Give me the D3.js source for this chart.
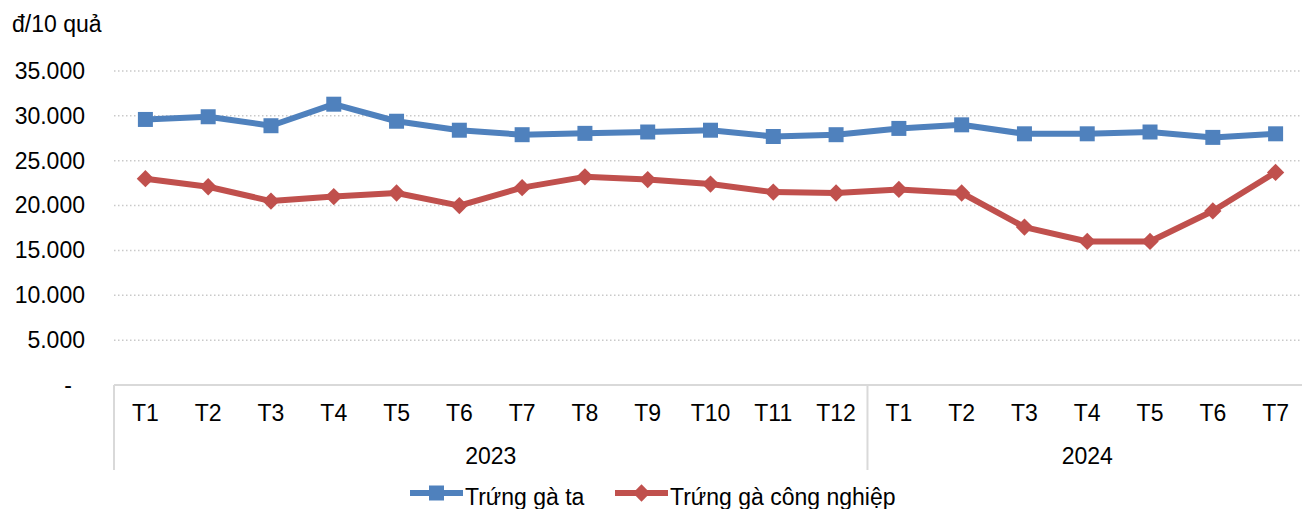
<!DOCTYPE html>
<html>
<head>
<meta charset="utf-8">
<script src="https://cdn.jsdelivr.net/npm/d3@7"></script>
<style>
  body { margin: 0; background: #fff; }
  svg text { font-family: "Liberation Sans", Arial, sans-serif; font-size: 23px; fill: #000; }
</style>
</head>
<body>
<div id="chart"></div>
<script>
// data
const months = ["T1", "T2", "T3", "T4", "T5", "T6", "T7", "T8", "T9", "T10", "T11", "T12",
                "T1", "T2", "T3", "T4", "T5", "T6", "T7"];
const years = [{ name: "2023", from: 0, to: 12 }, { name: "2024", from: 12, to: 19 }];
const gaTa = [29600, 29900, 28900, 31300, 29400, 28400, 27900, 28050, 28200, 28400, 27700, 27900,
              28600, 29000, 28000, 28000, 28200, 27600, 28000];
const gaCongNghiep = [23000, 22100, 20500, 21000, 21400, 20000, 22000, 23200, 22900, 22400, 21500, 21400,
                      21800, 21400, 17600, 16000, 16000, 19400, 23700];
const yTicks = [0, 5000, 10000, 15000, 20000, 25000, 30000, 35000];

const W = 1302, H = 509;
const plotLeft = 114, plotRight = 1307, plotTop = 71, plotBottom = 385;

const svg = d3.select("#chart").append("svg")
    .attr("width", W)
    .attr("height", H);

const x = d3.scaleBand()
    .domain(d3.range(months.length))
    .range([plotLeft, plotRight]);

const y = d3.scaleLinear()
    .domain([0, 35000])
    .range([plotBottom, plotTop]);

const fmt = d => d === 0 ? "-" : d3.format(",")(d).replace(/,/g, ".");

// grid lines
svg.append("g")
    .selectAll("line")
    .data(yTicks.filter(d => d > 0))
    .join("line")
    .attr("x1", plotLeft)
    .attr("x2", W)
    .attr("y1", d => y(d))
    .attr("y2", d => y(d))
    .attr("stroke", "#c9c9c9")
    .attr("stroke-width", 1.5)
    .attr("stroke-dasharray", "1.5,2.5");

// y axis labels
svg.append("g")
    .call(d3.axisLeft(y).tickValues(yTicks).tickSize(0).tickPadding(0).tickFormat(fmt))
    .attr("transform", "translate(85,0)")
    .call(g => g.select(".domain").remove())
    .call(g => g.selectAll("text")
        .attr("dx", d => d === 0 ? -13 : 0));
svg.selectAll("g").attr("font-size", null).attr("font-family", null);

svg.append("text")
    .attr("x", 12)
    .attr("y", 32)
    .text("đ/10 quả");

// x axis
svg.append("line")
    .attr("x1", plotLeft).attr("x2", W)
    .attr("y1", plotBottom).attr("y2", plotBottom)
    .attr("stroke", "#d9d9d9")
    .attr("stroke-width", 2);

svg.append("g")
    .selectAll("line")
    .data(years.map(d => d.from))
    .join("line")
    .attr("x1", d => x(d))
    .attr("x2", d => x(d))
    .attr("y1", plotBottom)
    .attr("y2", 470)
    .attr("stroke", "#d9d9d9")
    .attr("stroke-width", 2);

svg.append("g")
    .selectAll("text")
    .data(months)
    .join("text")
    .attr("x", (d, i) => x(i) + x.bandwidth() / 2)
    .attr("y", 421)
    .attr("text-anchor", "middle")
    .text(d => d);

svg.append("g")
    .selectAll("text")
    .data(years)
    .join("text")
    .attr("x", d => x(d.from) + (d.to - d.from) * x.bandwidth() / 2)
    .attr("y", 464)
    .attr("text-anchor", "middle")
    .text(d => d.name);

// series (diamond = square turned 45deg)
const series = [
    { name: "Trứng gà ta", values: gaTa, color: "#4f81bd", size: 225, rotate: 0 },
    { name: "Trứng gà công nghiệp", values: gaCongNghiep, color: "#c0504d", size: 150, rotate: 45 }
];

const line = d3.line()
    .x((d, i) => x(i) + x.bandwidth() / 2)
    .y(d => y(d));

series.forEach(s => {
    svg.append("path")
        .datum(s.values)
        .attr("fill", "none")
        .attr("stroke", s.color)
        .attr("stroke-width", 6)
        .attr("stroke-linejoin", "round")
        .attr("d", line);

    svg.append("g")
        .selectAll("path")
        .data(s.values)
        .join("path")
        .attr("transform", (d, i) => `translate(${x(i) + x.bandwidth() / 2},${y(d)}) rotate(${s.rotate})`)
        .attr("d", d3.symbol().type(d3.symbolSquare).size(s.size))
        .attr("fill", s.color);
});

// legend
const legendX = [410, 615];
series.forEach((s, i) => {
    const g = svg.append("g").attr("transform", `translate(${legendX[i]},493)`);
    g.append("line")
        .attr("x1", 0).attr("x2", 53)
        .attr("stroke", s.color)
        .attr("stroke-width", 6);
    g.append("path")
        .attr("transform", `translate(26.5,0) rotate(${s.rotate})`)
        .attr("d", d3.symbol().type(d3.symbolSquare).size(s.size))
        .attr("fill", s.color);
    g.append("text")
        .attr("x", 55)
        .attr("y", 12)
        .text(s.name);
});
</script>
</body>
</html>
